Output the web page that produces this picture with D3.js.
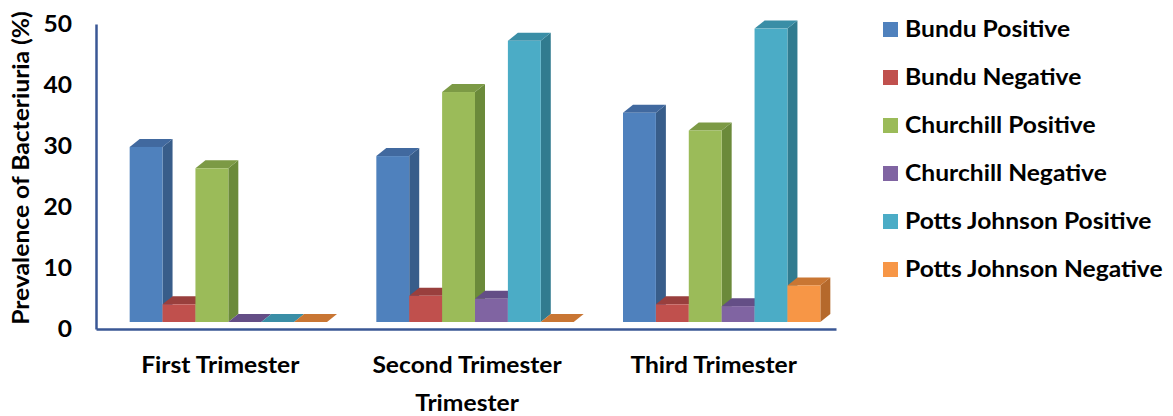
<!DOCTYPE html>
<html>
<head>
<meta charset="utf-8">
<script src="https://cdn.jsdelivr.net/npm/d3@7"></script>
<style>
  html, body { margin: 0; padding: 0; background: #ffffff; }
  svg { display: block; }
  text { font-family: Lato, "Open Sans", sans-serif; font-weight: 700; fill: #000; }
</style>
</head>
<body>
<svg id="chart" width="1173" height="416"></svg>
<script>
// Prevalence of bacteriuria by trimester and site
const trimesters = ["First Trimester", "Second Trimester", "Third Trimester"];
const seriesNames = [
  "Bundu Positive", "Bundu Negative", "Churchill Positive",
  "Churchill Negative", "Potts Johnson Positive", "Potts Johnson Negative"
];
// one array per series, values for first, second, third trimester (%)
const bunduPositive        = [28.7, 27.2, 34.3];
const bunduNegative        = [2.9, 4.3, 2.9];
const churchillPositive    = [25.2, 37.7, 31.4];
const churchillNegative    = [0, 3.8, 2.6];
const pottsJohnsonPositive = [0, 46.1, 48.1];
const pottsJohnsonNegative = [0, 0, 6.0];
const yTicks = [0, 10, 20, 30, 40, 50];

const seriesValues = [bunduPositive, bunduNegative, churchillPositive,
                      churchillNegative, pottsJohnsonPositive, pottsJohnsonNegative];

// face colours: front, side, top
const palette = [
  { front: "#4f81bd", side: "#385d8a", top: "#41699f" },
  { front: "#c0504d", side: "#8c3a38", top: "#993f3d" },
  { front: "#9bbb59", side: "#6b8a3a", top: "#7c9a45" },
  { front: "#8064a2", side: "#5d4978", top: "#644e86" },
  { front: "#4bacc6", side: "#317b8f", top: "#3a8ea6" },
  { front: "#f79646", side: "#b5692c", top: "#c97633" }
];

const svg = d3.select("#chart");
const fontSize = 22;
const stretch = 1.12;   // horizontal widening of the bold labels

const y = d3.scaleLinear().domain([0, 50]).range([329, 24]);
const x0 = d3.scaleBand().domain(trimesters).range([96, 836])
  .paddingInner(0.2).paddingOuter(0.1);
const x1 = d3.scaleBand().domain(seriesNames).range([0, x0.bandwidth()]);

// oblique 3-D projection: bars sit a little behind the axis plane
const lift = { x: 9, y: 7 };     // front face offset from axis plane
const depth = { x: 10, y: 8 };   // bar depth

const bars = svg.append("g").attr("class", "bars");
trimesters.forEach((t, gi) => {
  seriesNames.forEach((s, si) => {
    const v = seriesValues[si][gi];
    const c = palette[si];
    const xl = x0(t) + x1(s) + lift.x;
    const xr = xl + x1.bandwidth();
    const yb = y(0) - lift.y;
    const yt = y(v) - lift.y;
    const g = bars.append("g");
    if (v > 0) {
      g.append("polygon")
        .attr("points", [[xr, yt], [xr + depth.x, yt - depth.y], [xr + depth.x, yb - depth.y], [xr, yb]].join(" "))
        .attr("fill", c.side);
    }
    g.append("polygon")
      .attr("points", [[xl, yt], [xl + depth.x, yt - depth.y], [xr + depth.x, yt - depth.y], [xr, yt]].join(" "))
      .attr("fill", c.top);
    if (v > 0) {
      g.append("rect")
        .attr("x", xl).attr("y", yt)
        .attr("width", x1.bandwidth()).attr("height", yb - yt)
        .attr("fill", c.front);
    }
  });
});

// value axis
const axisColor = "#3a5795";
const yAxis = svg.append("g").attr("transform", "translate(96,0)")
  .call(d3.axisLeft(y).tickValues(yTicks).tickSize(0).tickPadding(24).tickFormat(d3.format("d")));
yAxis.select(".domain").attr("stroke", axisColor).attr("stroke-width", 2.5);
yAxis.selectAll("text")
  .attr("font-size", fontSize).attr("dy", "0.36em")
  .attr("transform", `translate(-24,0) scale(${stretch},1) translate(24,0)`);

// category axis
const xAxis = svg.append("g").attr("transform", "translate(0,329)")
  .call(d3.axisBottom(x0).tickSize(0).tickPadding(0));
xAxis.select(".domain").attr("stroke", axisColor).attr("stroke-width", 2.5);
xAxis.selectAll(".tick text")
  .attr("font-size", fontSize).attr("y", 44).attr("dy", 0).attr("x", 0)
  .attr("transform", `translate(1,0) scale(${stretch},1)`);

// axis titles
svg.append("text")
  .attr("transform", `translate(467,411) scale(${stretch},1)`)
  .attr("text-anchor", "middle").attr("font-size", fontSize)
  .text("Trimester");
svg.append("text")
  .attr("transform", `translate(29,168) rotate(-90) scale(${stretch},1)`)
  .attr("text-anchor", "middle").attr("font-size", fontSize)
  .text("Prevalence of Bacteriuria (%)");

// legend
const legend = svg.append("g").attr("class", "legend");
seriesNames.forEach((s, i) => {
  const row = legend.append("g").attr("transform", `translate(883,${22 + i * 48})`);
  row.append("rect").attr("width", 15).attr("height", 15).attr("fill", palette[i].front);
  row.append("text").attr("transform", `translate(22,15) scale(${stretch},1)`)
    .attr("font-size", fontSize).text(s);
});
</script>
</body>
</html>
